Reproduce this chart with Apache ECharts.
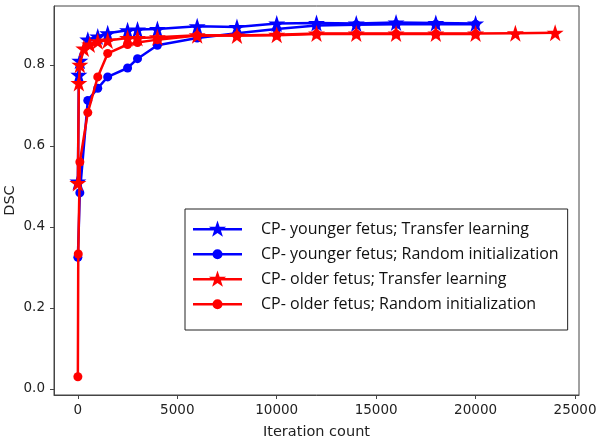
<!DOCTYPE html>
<html><head><meta charset="utf-8">
<script src="https://cdn.jsdelivr.net/npm/echarts@6/dist/echarts.min.js"></script>
<style>html,body{margin:0;padding:0;background:#fff}#c{width:600px;height:439px}</style>
</head><body><div id="c"></div>
<script>
var seriesNames = [
  'CP- younger fetus; Transfer learning',
  'CP- younger fetus; Random initialization',
  'CP- older fetus; Transfer learning',
  'CP- older fetus; Random initialization'
];
var youngTL_x = [0, 50, 100, 500, 1000, 1500, 2500, 3000, 4000, 6000, 8000, 10000, 12000, 14000, 16000, 18000, 20000];
var youngTL_y = [0.512, 0.775, 0.81, 0.862, 0.87, 0.878, 0.885, 0.887, 0.888, 0.895, 0.893, 0.902, 0.903, 0.902, 0.904, 0.903, 0.902];
var youngRI_x = [0, 100, 500, 1000, 1500, 2500, 3000, 4000, 6000, 8000, 10000, 12000, 14000, 16000, 18000, 20000];
var youngRI_y = [0.325, 0.484, 0.712, 0.742, 0.77, 0.792, 0.815, 0.848, 0.866, 0.878, 0.888, 0.897, 0.899, 0.9, 0.9, 0.9];
var oldTL_x = [0, 50, 100, 300, 600, 1000, 1500, 2500, 3000, 4000, 6000, 8000, 10000, 12000, 14000, 16000, 18000, 20000, 22000, 24000];
var oldTL_y = [0.508, 0.755, 0.80, 0.84, 0.85, 0.858, 0.86, 0.866, 0.866, 0.868, 0.873, 0.872, 0.874, 0.877, 0.877, 0.877, 0.877, 0.877, 0.878, 0.879];
var oldRI_x = [0, 20, 100, 500, 1000, 1500, 2500, 3000, 4000, 6000, 8000, 10000, 12000, 14000, 16000, 18000, 20000];
var oldRI_y = [0.03, 0.333, 0.56, 0.682, 0.77, 0.828, 0.85, 0.855, 0.862, 0.872, 0.872, 0.873, 0.876, 0.876, 0.876, 0.876, 0.876];
var xTicks = [0, 5000, 10000, 15000, 20000, 25000];
var yTicks = [0, 0.2, 0.4, 0.6, 0.8];

function pairs(xs, ys){ return xs.map(function(x,i){ return [x, ys[i]]; }); }
var colors = ['#0000ff', '#0000ff', '#ff0000', '#ff0000'];
var STAR = 'path://M50,0 L61.8,35.5 L99,35.5 L69,57.5 L80.5,93 L50,71 L19.5,93 L31,57.5 L1,35.5 L38.2,35.5 Z';
var symbols = [STAR, 'circle', STAR, 'circle'];
var sizes = [17, 9, 17, 9];
var datas = [pairs(youngTL_x, youngTL_y), pairs(youngRI_x, youngRI_y), pairs(oldTL_x, oldTL_y), pairs(oldRI_x, oldRI_y)];

// legend icons: line + marker in a 49x18 box
var LINE = 'M0,8 L49,8 L49,10.6 L0,10.6 Z ';
var DOTS = 'M24.5,0 L24.52,0 L24.5,0.02 Z M24.5,18 L24.52,18 L24.5,17.98 Z ';
var ICON_STAR = 'path://' + LINE + DOTS +
  'M24.5,0.5 L26.6,6.7 L33.2,6.7 L27.9,10.6 L29.9,16.8 L24.5,13 L19.1,16.8 L21.1,10.6 L15.8,6.7 L22.4,6.7 Z';
var ICON_CIRCLE = 'path://' + LINE + DOTS +
  'M19.5,9.3 A5,5 0 1,1 29.5,9.3 A5,5 0 1,1 19.5,9.3 Z';
var legendIcons = [ICON_STAR, ICON_CIRCLE, ICON_STAR, ICON_CIRCLE];

var series = seriesNames.map(function(n, i){
  return {
    name: n, type: 'line', data: datas[i], symbol: symbols[i], symbolSize: sizes[i],
    showAllSymbol: true, animation: false, z: 2 + i,
    lineStyle: {color: colors[i], width: 2.5},
    itemStyle: {color: colors[i]}
  };
});

var font = 'DejaVu Sans';
var chart = echarts.init(document.getElementById('c'), null, {renderer: 'canvas'});
chart.setOption({
  animation: false,
  grid: {left: 54, right: 21, top: 6, bottom: 44, show: true, borderColor: '#444', borderWidth: 1,
    backgroundColor: 'transparent', outerBoundsMode: 'none', containLabel: false},
  xAxis: {
    type: 'value', min: -1200, max: 25200,
    name: 'Iteration count', nameLocation: 'middle', nameGap: 30,
    nameTextStyle: {fontFamily: font, fontSize: 14.5, color: '#222'},
    axisLine: {show: true, onZero: false, lineStyle: {color: '#444'}},
    axisTick: {show: true, length: 4, lineStyle: {color: '#444'}, customValues: xTicks},
    axisLabel: {fontFamily: font, fontSize: 13.5, color: '#222', margin: 8, customValues: xTicks,
      formatter: function(v){ return String(v); }},
    splitLine: {show: false}
  },
  yAxis: {
    type: 'value', min: -0.015, max: 0.945,
    name: 'DSC', nameLocation: 'middle', nameGap: 36, nameRotate: 90, nameMoveOverlap: false,
    nameTextStyle: {fontFamily: font, fontSize: 14.5, color: '#222'},
    axisLine: {show: true, onZero: false, lineStyle: {color: '#444'}},
    axisTick: {show: true, length: 4, lineStyle: {color: '#444'}, customValues: yTicks},
    axisLabel: {fontFamily: font, fontSize: 13.5, color: '#222', margin: 9, customValues: yTicks,
      formatter: function(v){ return v.toFixed(1); }},
    splitLine: {show: false}
  },
  legend: {
    left: 185, top: 209, orient: 'vertical',
    data: seriesNames.map(function(n, i){ return {name: n, icon: legendIcons[i]}; }),
    itemWidth: 49, itemHeight: 18, itemGap: 7,
    borderColor: '#222', borderWidth: 1, padding: [11, 9, 17, 8],
    backgroundColor: '#fff',
    textStyle: {fontFamily: 'Open Sans', fontSize: 16, color: '#111', padding: [0, 0, 0, 14]}
  },
  series: series
});
</script></body></html>
